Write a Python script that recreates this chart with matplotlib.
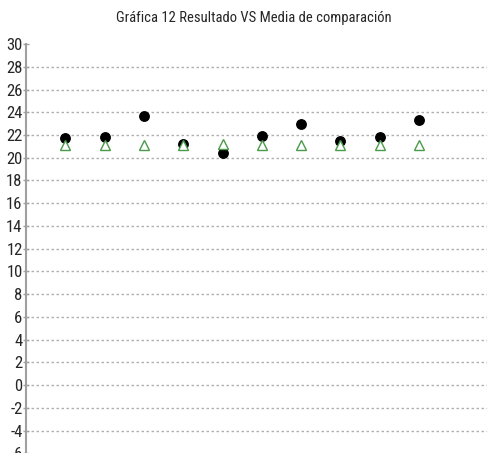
import matplotlib
matplotlib.use("Agg")
import matplotlib.pyplot as plt
from matplotlib import font_manager

fl = font_manager.fontManager.ttflist
names = {f.name for f in fl}
if "Liberation Sans Narrow" in names:
    plt.rcParams['font.family'] = ["Liberation Sans Narrow", 'DejaVu Sans']
elif "Roboto Condensed" in names:
    plt.rcParams['font.family'] = ["Roboto Condensed", 'DejaVu Sans']
else:
    plt.rcParams['font.family'] = ['DejaVu Sans']
    if any(f.name == 'DejaVu Sans' and 'condensed' in str(f.stretch) for f in fl):
        plt.rcParams['font.stretch'] = 'condensed'

title = "Gráfica 12 Resultado VS Media de comparación"
categories = list(range(1, 11))
resultado = [21.7, 21.8, 23.7, 21.2, 20.45, 21.9, 23.0, 21.45, 21.8, 23.3]
media = [21.1, 21.1, 21.1, 21.1, 21.2, 21.1, 21.1, 21.1, 21.1, 21.1]
yticks = list(range(-6, 31, 2))

fig = plt.figure(figsize=(4.87, 4.53), dpi=100)
ax = fig.add_axes([26/487, -0.0007, 1 - 26/487, 0.9035])

ax.plot(categories, resultado, linestyle='none', marker='o', markersize=6.8,
        color='black', zorder=3)
ax.plot(categories, media, linestyle='none', marker='^', markersize=6.5,
        markerfacecolor='white', markeredgecolor='#4a9a4a', markeredgewidth=1.0, zorder=4)

ax.set_xlim(0, 11.73)
ax.set_ylim(-6, 30)
ax.set_yticks(yticks)
ax.set_yticklabels([str(v) for v in yticks], fontsize=12)
ax.set_xticks([])

for v in yticks:
    if -6 < v < 30:
        ax.axhline(v, color='#b0b0b0', linestyle=(0, (1.8, 1.8)), linewidth=1.0, zorder=1)

for s in ['top', 'right', 'bottom']:
    ax.spines[s].set_visible(False)
ax.spines['left'].set_color('#a0a0a0')
ax.spines['left'].set_linewidth(1.5)
ax.tick_params(axis='y', direction='inout', length=5, width=1, color='#a0a0a0', pad=0,
               labelcolor='#262626')

fig.text(254/487, 1 - 18/453, title, ha='center', va='center', fontsize=10.5, color='#262626')

fig.savefig("out.png", dpi=100)
